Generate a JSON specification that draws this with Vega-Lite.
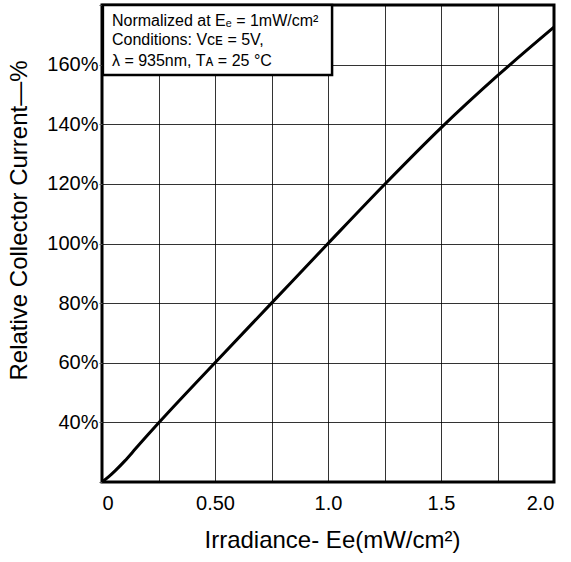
{
  "$schema": "https://vega.github.io/schema/vega-lite/v6.json",
  "width": 452,
  "height": 477,
  "autosize": {"type": "none"},
  "padding": {"left": 102, "top": 5, "right": 17, "bottom": 80},
  "background": "white",
  "config": {
    "font": "Liberation Sans",
    "view": {"stroke": "black", "strokeWidth": 3},
    "axis": {
      "grid": true,
      "gridColor": "black",
      "gridWidth": 1,
      "gridOpacity": 0.8,
      "domain": false,
      "labelFont": "Liberation Sans",
      "titleFont": "Liberation Sans",
      "labelColor": "black",
      "titleColor": "black",
      "labelFontSize": 20,
      "titleFontSize": 24,
      "titleFontWeight": "normal"
    }
  },
  "encoding": {
    "x": {
      "field": "x",
      "type": "quantitative",
      "scale": {"domain": [0, 2], "nice": false, "zero": false},
      "axis": {
        "title": "Irradiance- Ee(mW/cm²)",
        "values": [0, 0.25, 0.5, 0.75, 1, 1.25, 1.5, 1.75, 2],
        "labelExpr": "datum.value == 0 ? '0' : datum.value == 0.5 ? '0.50' : (datum.value == 1 || datum.value == 1.5 || datum.value == 2) ? format(datum.value, '.1f') : ''",
        "tickSize": 0,
        "labelPadding": 11,
        "titleX": 230,
        "titleY": 58,
        "titleBaseline": "middle"
      }
    },
    "y": {
      "field": "y",
      "type": "quantitative",
      "scale": {"domain": [20, 180], "nice": false, "zero": false},
      "axis": {
        "title": "Relative Collector Current—%",
        "values": [20, 40, 60, 80, 100, 120, 140, 160, 180],
        "labelExpr": "(datum.value >= 40 && datum.value <= 160) ? datum.value + '%' : ''",
        "tickSize": 3,
        "tickColor": "#555",
        "labelPadding": 1,
        "titleX": -83,
        "titleY": 215,
        "titleBaseline": "middle"
      }
    }
  },
  "layer": [
    {
      "data": {"values": [
        {"x": 0, "y": 20},
        {"x": 0.03, "y": 21.8},
        {"x": 0.06, "y": 23.9},
        {"x": 0.1, "y": 27},
        {"x": 0.15, "y": 31.3},
        {"x": 0.2, "y": 35.6},
        {"x": 0.25, "y": 39.8},
        {"x": 0.3, "y": 43.9},
        {"x": 0.5, "y": 60},
        {"x": 0.75, "y": 80},
        {"x": 1.0, "y": 100},
        {"x": 1.25, "y": 119.8},
        {"x": 1.5, "y": 138.8},
        {"x": 1.75, "y": 156.3},
        {"x": 2.0, "y": 172.6}
      ]},
      "mark": {"type": "line", "color": "black", "strokeWidth": 3, "interpolate": "monotone"}
    },
    {
      "data": {"values": [{"x": 0.004, "x2": 1.018, "y": 156.5, "y2": 180}]},
      "mark": {"type": "rect", "fill": "white", "stroke": "black", "strokeWidth": 2.5},
      "encoding": {
        "x2": {"field": "x2"},
        "y2": {"field": "y2"}
      }
    },
    {
      "data": {"values": [
        {"x": 0.044, "y": 174.7, "label": "Normalized at Eₑ = 1mW/cm²"},
        {"x": 0.044, "y": 168.2, "label": "Conditions: Vᴄᴇ = 5V,"},
        {"x": 0.044, "y": 161.2, "label": "λ = 935nm, Tᴀ = 25 °C"}
      ]},
      "mark": {"type": "text", "align": "left", "baseline": "middle", "fontSize": 16, "color": "black", "font": "Liberation Sans"},
      "encoding": {
        "text": {"field": "label"}
      }
    }
  ]
}
